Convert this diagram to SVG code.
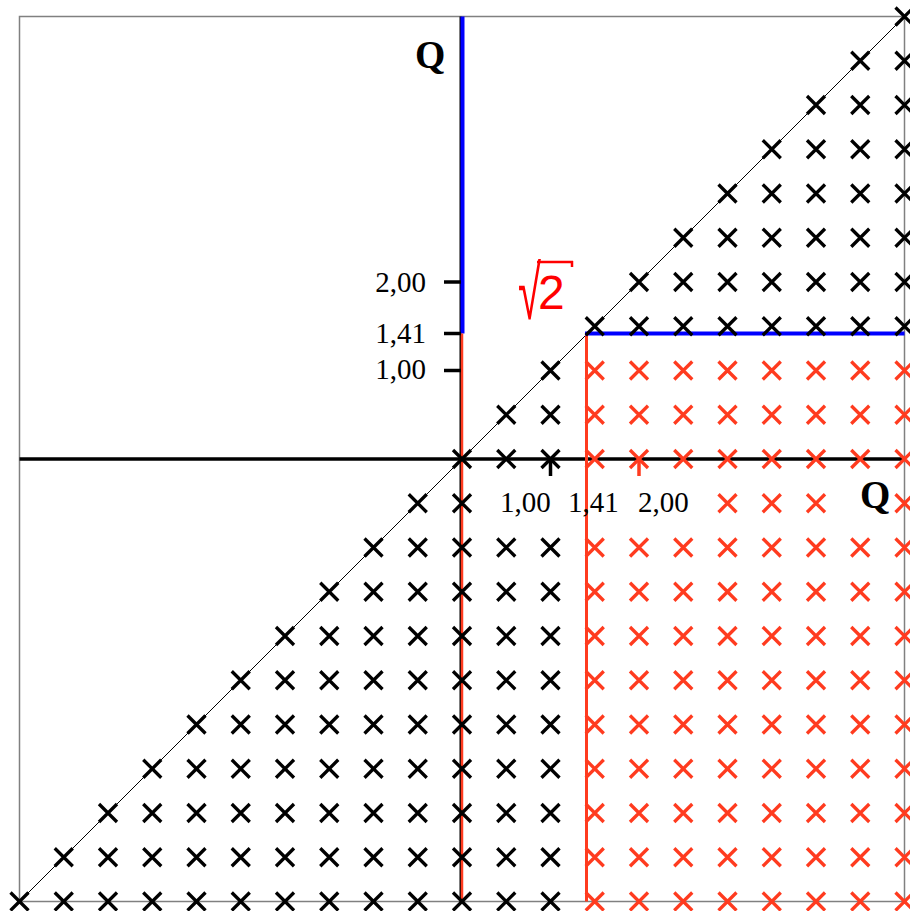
<svg xmlns="http://www.w3.org/2000/svg" xmlns:xlink="http://www.w3.org/1999/xlink" width="910" height="911" viewBox="0 0 910 911">
<style>
.k use{stroke:#000}
.r use{stroke:#ff3b1f}
.lbl{font-family:"Liberation Serif","Times New Roman",serif;font-size:29px;fill:#000}
.q{font-family:"Liberation Serif","Times New Roman",serif;font-size:39px;font-weight:bold;fill:#000}
</style>
<defs>
<path id="m" d="M-9,-9L9,9M-9,9L9,-9" fill="none" stroke-width="3.3"/>
</defs>
<rect x="0" y="0" width="910" height="911" fill="#fff"/>
<g id="connectors">
<rect x="19.5" y="16.5" width="885" height="885" fill="none" stroke="#808080" stroke-width="1.5"/>
<line x1="19.5" y1="901.5" x2="904.5" y2="16.5" stroke="#000" stroke-width="1"/>
<line x1="19.5" y1="459" x2="904.5" y2="459" stroke="#000" stroke-width="3.5"/>
<line x1="460.5" y1="16.5" x2="460.5" y2="901.5" stroke="#000" stroke-width="2"/>
<line x1="462.5" y1="16.5" x2="462.5" y2="333.5" stroke="#0000ff" stroke-width="4"/>
<line x1="462" y1="333.5" x2="462" y2="901.5" stroke="#ff3b1f" stroke-width="2.5"/>
<line x1="586.5" y1="333.5" x2="586.5" y2="901.5" stroke="#ff3b1f" stroke-width="3"/>
<line x1="585" y1="333.5" x2="904.5" y2="333.5" stroke="#0000ff" stroke-width="4"/>
<line x1="444" y1="282" x2="461" y2="282" stroke="#000" stroke-width="3.5"/>
<line x1="444" y1="333.5" x2="461" y2="333.5" stroke="#000" stroke-width="3.5"/>
<line x1="444" y1="370.5" x2="461" y2="370.5" stroke="#000" stroke-width="3.5"/>
<line x1="550.5" y1="459" x2="550.5" y2="476" stroke="#000" stroke-width="3.5"/>
<line x1="639" y1="459" x2="639" y2="476" stroke="#ff3b1f" stroke-width="3.5"/>
</g>
<g id="marks-black" class="k">
<g transform="translate(0,901.5)"><use href="#m" x="19.5"/><use href="#m" x="63.75"/><use href="#m" x="108"/><use href="#m" x="152.25"/><use href="#m" x="196.5"/><use href="#m" x="240.75"/><use href="#m" x="285"/><use href="#m" x="329.25"/><use href="#m" x="373.5"/><use href="#m" x="417.75"/><use href="#m" x="462"/><use href="#m" x="506.25"/><use href="#m" x="550.5"/></g>
<g transform="translate(0,857.25)"><use href="#m" x="63.75"/><use href="#m" x="108"/><use href="#m" x="152.25"/><use href="#m" x="196.5"/><use href="#m" x="240.75"/><use href="#m" x="285"/><use href="#m" x="329.25"/><use href="#m" x="373.5"/><use href="#m" x="417.75"/><use href="#m" x="462"/><use href="#m" x="506.25"/><use href="#m" x="550.5"/></g>
<g transform="translate(0,813)"><use href="#m" x="108"/><use href="#m" x="152.25"/><use href="#m" x="196.5"/><use href="#m" x="240.75"/><use href="#m" x="285"/><use href="#m" x="329.25"/><use href="#m" x="373.5"/><use href="#m" x="417.75"/><use href="#m" x="462"/><use href="#m" x="506.25"/><use href="#m" x="550.5"/></g>
<g transform="translate(0,768.75)"><use href="#m" x="152.25"/><use href="#m" x="196.5"/><use href="#m" x="240.75"/><use href="#m" x="285"/><use href="#m" x="329.25"/><use href="#m" x="373.5"/><use href="#m" x="417.75"/><use href="#m" x="462"/><use href="#m" x="506.25"/><use href="#m" x="550.5"/></g>
<g transform="translate(0,724.5)"><use href="#m" x="196.5"/><use href="#m" x="240.75"/><use href="#m" x="285"/><use href="#m" x="329.25"/><use href="#m" x="373.5"/><use href="#m" x="417.75"/><use href="#m" x="462"/><use href="#m" x="506.25"/><use href="#m" x="550.5"/></g>
<g transform="translate(0,680.25)"><use href="#m" x="240.75"/><use href="#m" x="285"/><use href="#m" x="329.25"/><use href="#m" x="373.5"/><use href="#m" x="417.75"/><use href="#m" x="462"/><use href="#m" x="506.25"/><use href="#m" x="550.5"/></g>
<g transform="translate(0,636)"><use href="#m" x="285"/><use href="#m" x="329.25"/><use href="#m" x="373.5"/><use href="#m" x="417.75"/><use href="#m" x="462"/><use href="#m" x="506.25"/><use href="#m" x="550.5"/></g>
<g transform="translate(0,591.75)"><use href="#m" x="329.25"/><use href="#m" x="373.5"/><use href="#m" x="417.75"/><use href="#m" x="462"/><use href="#m" x="506.25"/><use href="#m" x="550.5"/></g>
<g transform="translate(0,547.5)"><use href="#m" x="373.5"/><use href="#m" x="417.75"/><use href="#m" x="462"/><use href="#m" x="506.25"/><use href="#m" x="550.5"/></g>
<g transform="translate(0,503.25)"><use href="#m" x="417.75"/><use href="#m" x="462"/></g>
<g transform="translate(0,459)"><use href="#m" x="462"/><use href="#m" x="506.25"/><use href="#m" x="550.5"/></g>
<g transform="translate(0,414.75)"><use href="#m" x="506.25"/><use href="#m" x="550.5"/></g>
<g transform="translate(0,370.5)"><use href="#m" x="550.5"/></g>
<g transform="translate(0,326.25)"><use href="#m" x="594.75"/><use href="#m" x="639"/><use href="#m" x="683.25"/><use href="#m" x="727.5"/><use href="#m" x="771.75"/><use href="#m" x="816"/><use href="#m" x="860.25"/><use href="#m" x="904.5"/></g>
<g transform="translate(0,282)"><use href="#m" x="639"/><use href="#m" x="683.25"/><use href="#m" x="727.5"/><use href="#m" x="771.75"/><use href="#m" x="816"/><use href="#m" x="860.25"/><use href="#m" x="904.5"/></g>
<g transform="translate(0,237.75)"><use href="#m" x="683.25"/><use href="#m" x="727.5"/><use href="#m" x="771.75"/><use href="#m" x="816"/><use href="#m" x="860.25"/><use href="#m" x="904.5"/></g>
<g transform="translate(0,193.5)"><use href="#m" x="727.5"/><use href="#m" x="771.75"/><use href="#m" x="816"/><use href="#m" x="860.25"/><use href="#m" x="904.5"/></g>
<g transform="translate(0,149.25)"><use href="#m" x="771.75"/><use href="#m" x="816"/><use href="#m" x="860.25"/><use href="#m" x="904.5"/></g>
<g transform="translate(0,105)"><use href="#m" x="816"/><use href="#m" x="860.25"/><use href="#m" x="904.5"/></g>
<g transform="translate(0,60.75)"><use href="#m" x="860.25"/><use href="#m" x="904.5"/></g>
<g transform="translate(0,16.5)"><use href="#m" x="904.5"/></g>
</g>
<g id="marks-red" class="r">
<g transform="translate(0,901.5)"><use href="#m" x="594.75"/><use href="#m" x="639"/><use href="#m" x="683.25"/><use href="#m" x="727.5"/><use href="#m" x="771.75"/><use href="#m" x="816"/><use href="#m" x="860.25"/><use href="#m" x="904.5"/></g>
<g transform="translate(0,857.25)"><use href="#m" x="594.75"/><use href="#m" x="639"/><use href="#m" x="683.25"/><use href="#m" x="727.5"/><use href="#m" x="771.75"/><use href="#m" x="816"/><use href="#m" x="860.25"/><use href="#m" x="904.5"/></g>
<g transform="translate(0,813)"><use href="#m" x="594.75"/><use href="#m" x="639"/><use href="#m" x="683.25"/><use href="#m" x="727.5"/><use href="#m" x="771.75"/><use href="#m" x="816"/><use href="#m" x="860.25"/><use href="#m" x="904.5"/></g>
<g transform="translate(0,768.75)"><use href="#m" x="594.75"/><use href="#m" x="639"/><use href="#m" x="683.25"/><use href="#m" x="727.5"/><use href="#m" x="771.75"/><use href="#m" x="816"/><use href="#m" x="860.25"/><use href="#m" x="904.5"/></g>
<g transform="translate(0,724.5)"><use href="#m" x="594.75"/><use href="#m" x="639"/><use href="#m" x="683.25"/><use href="#m" x="727.5"/><use href="#m" x="771.75"/><use href="#m" x="816"/><use href="#m" x="860.25"/><use href="#m" x="904.5"/></g>
<g transform="translate(0,680.25)"><use href="#m" x="594.75"/><use href="#m" x="639"/><use href="#m" x="683.25"/><use href="#m" x="727.5"/><use href="#m" x="771.75"/><use href="#m" x="816"/><use href="#m" x="860.25"/><use href="#m" x="904.5"/></g>
<g transform="translate(0,636)"><use href="#m" x="594.75"/><use href="#m" x="639"/><use href="#m" x="683.25"/><use href="#m" x="727.5"/><use href="#m" x="771.75"/><use href="#m" x="816"/><use href="#m" x="860.25"/><use href="#m" x="904.5"/></g>
<g transform="translate(0,591.75)"><use href="#m" x="594.75"/><use href="#m" x="639"/><use href="#m" x="683.25"/><use href="#m" x="727.5"/><use href="#m" x="771.75"/><use href="#m" x="816"/><use href="#m" x="860.25"/><use href="#m" x="904.5"/></g>
<g transform="translate(0,547.5)"><use href="#m" x="594.75"/><use href="#m" x="639"/><use href="#m" x="683.25"/><use href="#m" x="727.5"/><use href="#m" x="771.75"/><use href="#m" x="816"/><use href="#m" x="860.25"/><use href="#m" x="904.5"/></g>
<g transform="translate(0,503.25)"><use href="#m" x="727.5"/><use href="#m" x="771.75"/><use href="#m" x="816"/><use href="#m" x="904.5"/></g>
<g transform="translate(0,459)"><use href="#m" x="594.75"/><use href="#m" x="639"/><use href="#m" x="683.25"/><use href="#m" x="727.5"/><use href="#m" x="771.75"/><use href="#m" x="816"/><use href="#m" x="860.25"/><use href="#m" x="904.5"/></g>
<g transform="translate(0,414.75)"><use href="#m" x="594.75"/><use href="#m" x="639"/><use href="#m" x="683.25"/><use href="#m" x="727.5"/><use href="#m" x="771.75"/><use href="#m" x="816"/><use href="#m" x="860.25"/><use href="#m" x="904.5"/></g>
<g transform="translate(0,370.5)"><use href="#m" x="594.75"/><use href="#m" x="639"/><use href="#m" x="683.25"/><use href="#m" x="727.5"/><use href="#m" x="771.75"/><use href="#m" x="816"/><use href="#m" x="860.25"/><use href="#m" x="904.5"/></g>
</g>
<g id="labels">
<text class="q" x="415" y="68">Q</text>
<text class="q" x="860" y="508">Q</text>
<text class="lbl" x="426" y="292" text-anchor="end">2,00</text>
<text class="lbl" x="426" y="343" text-anchor="end">1,41</text>
<text class="lbl" x="426" y="379" text-anchor="end">1,00</text>
<text class="lbl" x="500" y="512">1,00</text>
<text class="lbl" x="568" y="512">1,41</text>
<text class="lbl" x="638" y="512">2,00</text>
</g>
<g id="sqrt2">
<text x="0" y="0" transform="translate(518,319) scale(0.55,1)" font-family="'Liberation Sans',Arial,sans-serif" font-size="76" fill="#ff0000">√</text>
<text x="538" y="309" font-family="'Liberation Sans',Arial,sans-serif" font-size="48" fill="#ff0000">2</text>
<line x1="537" y1="262" x2="573" y2="262" stroke="#ff0000" stroke-width="2.5"/>
<line x1="572" y1="261" x2="572" y2="267" stroke="#ff0000" stroke-width="2.5"/>
</g>
</svg>
